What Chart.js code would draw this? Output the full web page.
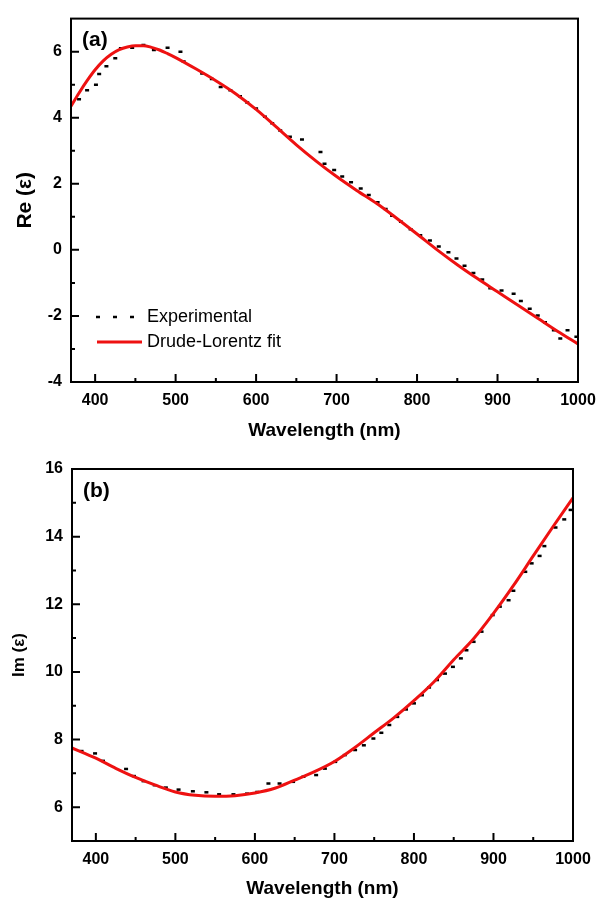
<!DOCTYPE html>
<html>
<head>
<meta charset="utf-8">
<script src="https://cdn.jsdelivr.net/npm/chart.js@4.4.0/dist/chart.umd.min.js"></script>
<style>
html, body { margin: 0; padding: 0; background: #fff; }
#wrap { position: relative; width: 608px; height: 906px; }
canvas { position: absolute; left: 0; }
</style>
</head>
<body>
<div id="wrap">
  <canvas id="chartRe" width="608" height="448" style="top:0"></canvas>
  <canvas id="chartIm" width="608" height="458" style="top:448px"></canvas>
</div>
<script>
// ---- data ----
const xTicks = [400, 500, 600, 700, 800, 900, 1000];
const xMinor = [450, 550, 650, 750, 850, 950];

const reTicks = [-4, -2, 0, 2, 4, 6];
const reMinor = [-3, -1, 1, 3, 5];
const imTicks = [6, 8, 10, 12, 14, 16];
const imMinor = [7, 9, 11, 13, 15];

// (a) real part
const reExpX = [380, 390, 401, 405, 414, 425, 432, 446, 460, 473, 490, 506, 510, 533, 545, 556, 568, 580, 589, 600,
  611, 620, 630, 642, 657, 680, 685, 697, 707, 718, 730, 740, 751, 761, 769, 780, 792, 804, 816, 827,
  839, 849, 859, 870, 881, 891, 905, 920, 929, 940, 950, 959, 970, 978, 987, 998];
const reExpY = [4.56, 4.83, 5.0, 5.32, 5.56, 5.8, 6.1, 6.12, 6.2, 6.05, 6.12, 6.0, 5.7, 5.34, 5.17, 4.93, 4.83, 4.65, 4.46, 4.28,
  4.03, 3.83, 3.61, 3.42, 3.34, 2.96, 2.61, 2.42, 2.22, 2.05, 1.86, 1.66, 1.44, 1.24, 1.03, 0.85, 0.62, 0.44, 0.28, 0.1,
  -0.07, -0.26, -0.48, -0.7, -0.9, -1.16, -1.23, -1.33, -1.55, -1.78, -1.99, -2.19, -2.43, -2.68, -2.43, -2.63];
const reFitX = [370, 380, 390, 400, 410, 420, 430, 440, 450, 460, 470, 480, 490, 500, 525, 550, 575, 600, 625, 650,
  675, 700, 725, 750, 775, 800, 825, 850, 875, 900, 925, 950, 975, 1000];
const reFitY = [4.35, 4.75, 5.12, 5.45, 5.72, 5.92, 6.06, 6.14, 6.18, 6.18, 6.13, 6.05, 5.94, 5.82, 5.48, 5.12, 4.72, 4.25, 3.72, 3.18,
  2.68, 2.22, 1.8, 1.4, 0.95, 0.48, 0.0, -0.45, -0.87, -1.27, -1.67, -2.07, -2.47, -2.85];

// (b) imaginary part
const imExpX = [382, 399, 409, 438, 448, 460, 474, 488, 504, 522, 539, 555, 573, 590, 603, 617, 631, 648, 661, 677,
  688, 701, 713, 726, 737, 749, 759, 769, 779, 790, 800, 810, 819, 829, 839, 849, 859, 866, 875, 885,
  899, 908, 919, 925, 940, 948, 958, 964, 978, 989, 997];
const imExpY = [7.66, 7.59, 7.37, 7.13, 6.92, 6.77, 6.65, 6.58, 6.52, 6.47, 6.44, 6.38, 6.38, 6.4, 6.45, 6.7, 6.7, 6.75, 6.9, 6.95,
  7.14, 7.34, 7.54, 7.69, 7.83, 8.03, 8.2, 8.43, 8.67, 8.89, 9.07, 9.31, 9.54, 9.76, 9.95, 10.15, 10.4, 10.64, 10.89, 11.19,
  11.68, 11.93, 12.12, 12.4, 12.96, 13.21, 13.43, 13.72, 14.27, 14.51, 14.79];
const imFitX = [370, 400, 425, 450, 475, 500, 525, 550, 575, 600, 625, 650, 675, 700, 725, 750, 775, 800, 825, 850,
  875, 900, 925, 950, 975, 1000];
const imFitY = [7.75, 7.45, 7.15, 6.88, 6.65, 6.45, 6.35, 6.32, 6.34, 6.42, 6.56, 6.8, 7.05, 7.35, 7.75, 8.2, 8.65, 9.15, 9.7, 10.36,
  10.98, 11.73, 12.55, 13.43, 14.3, 15.15];

const RED = '#ee1111';
const FONT = '"Liberation Sans", Arial, sans-serif';
Chart.defaults.font.family = FONT;
Chart.defaults.color = '#000';

const pts = (xs, ys) => xs.map((x, i) => ({ x: x, y: ys[i] }));

// box around plot + inward ticks + panel letter (+ legend)
const framePlugin = {
  id: 'frame',
  afterDatasetsDraw(chart, args, opts) {
    const { ctx, chartArea: a, scales: { x, y } } = chart;
    ctx.save();
    ctx.strokeStyle = '#000';
    ctx.lineWidth = 2;
    ctx.strokeRect(a.left, a.top, a.right - a.left, a.bottom - a.top);
    ctx.beginPath();
    xTicks.forEach(v => { const p = x.getPixelForValue(v); ctx.moveTo(p, a.bottom); ctx.lineTo(p, a.bottom - 8); });
    xMinor.forEach(v => { const p = x.getPixelForValue(v); ctx.moveTo(p, a.bottom); ctx.lineTo(p, a.bottom - 4); });
    opts.yMajor.forEach(v => { const p = y.getPixelForValue(v); ctx.moveTo(a.left, p); ctx.lineTo(a.left + 8, p); });
    opts.yMinor.forEach(v => { const p = y.getPixelForValue(v); ctx.moveTo(a.left, p); ctx.lineTo(a.left + 4, p); });
    ctx.stroke();

    ctx.fillStyle = '#000';
    ctx.font = 'bold 21px ' + FONT;
    ctx.textBaseline = 'middle';
    ctx.fillText(opts.label, a.left + 11, a.top + 22);

    if (opts.legend) {
      const ds = chart.data.datasets;
      ctx.font = '18px ' + FONT;
      // experimental sample: three dashes
      let yy = a.bottom - 65;
      ctx.lineWidth = 2.5;
      ctx.beginPath();
      [27, 44, 61].forEach(dx => { ctx.moveTo(a.left + dx - 2, yy); ctx.lineTo(a.left + dx + 2, yy); });
      ctx.stroke();
      ctx.fillText(ds[0].label, a.left + 76, yy);
      // fit sample: red line
      yy = a.bottom - 40;
      ctx.strokeStyle = ds[1].borderColor;
      ctx.lineWidth = 3;
      ctx.beginPath();
      ctx.moveTo(a.left + 26, yy); ctx.lineTo(a.left + 71, yy);
      ctx.stroke();
      ctx.fillText(ds[1].label, a.left + 76, yy);
    }
    ctx.restore();
  }
};

function makeChart(id, cfg) {
  return new Chart(document.getElementById(id), {
    type: 'scatter',
    data: {
      datasets: [
        {
          label: 'Experimental',
          data: pts(cfg.expX, cfg.expY),
          showLine: false,
          pointStyle: 'line',
          pointRadius: 2,
          borderWidth: 2.5,
          borderColor: '#000',
          backgroundColor: '#000',
          order: 1
        },
        {
          label: 'Drude-Lorentz fit',
          data: pts(cfg.fitX, cfg.fitY),
          showLine: true,
          pointRadius: 0,
          borderWidth: 3,
          borderColor: RED,
          cubicInterpolationMode: 'monotone',
          order: 0
        }
      ]
    },
    options: {
      responsive: false,
      animation: false,
      layout: { padding: cfg.padding },
      plugins: {
        legend: { display: false },
        tooltip: { enabled: false },
        frame: { label: cfg.label, yMajor: cfg.yTicks, yMinor: cfg.yMinor, legend: cfg.legend }
      },
      scales: {
        x: {
          type: 'linear',
          min: 370, max: 1000,
          afterBuildTicks: s => { s.ticks = xTicks.map(v => ({ value: v })); },
          afterFit: s => { s.height = cfg.xHeight; },
          grid: { display: false, drawTicks: false },
          border: { display: false },
          ticks: { padding: 9, font: { size: 16, weight: 'bold' }, color: '#000', callback: v => String(v) },
          title: { display: true, text: 'Wavelength (nm)', font: { size: 19, weight: 'bold' }, color: '#000', padding: { top: 0, bottom: 6 } }
        },
        y: {
          type: 'linear',
          min: cfg.yMin, max: cfg.yMax,
          afterBuildTicks: s => { s.ticks = cfg.yTicks.map(v => ({ value: v })); },
          afterFit: s => { s.width = cfg.yWidth; },
          grid: { display: false, drawTicks: false },
          border: { display: false },
          ticks: { padding: 9, font: { size: 16, weight: 'bold' }, color: '#000', callback: v => String(v) },
          title: { display: true, text: cfg.yTitle, font: { size: cfg.yTitleSize, weight: 'bold' }, color: '#000', padding: { top: cfg.yTitlePad, bottom: 0 } }
        }
      }
    },
    plugins: [framePlugin]
  });
}

makeChart('chartRe', {
  expX: reExpX, expY: reExpY, fitX: reFitX, fitY: reFitY,
  yMin: -4, yMax: 7, yTicks: reTicks, yMinor: reMinor,
  yTitle: 'Re (ε)', yTitleSize: 21, yTitlePad: 13,
  padding: { top: 5, right: 30, left: 0, bottom: 0 },
  xHeight: 66, yWidth: 71, label: '(a)', legend: true
});

makeChart('chartIm', {
  expX: imExpX, expY: imExpY, fitX: imFitX, fitY: imFitY,
  yMin: 5, yMax: 16, yTicks: imTicks, yMinor: imMinor,
  yTitle: 'Im (ε)', yTitleSize: 17, yTitlePad: 9,
  padding: { top: 21, right: 35, left: 0, bottom: 0 },
  xHeight: 65, yWidth: 72, label: '(b)', legend: false
});
</script>
</body>
</html>
